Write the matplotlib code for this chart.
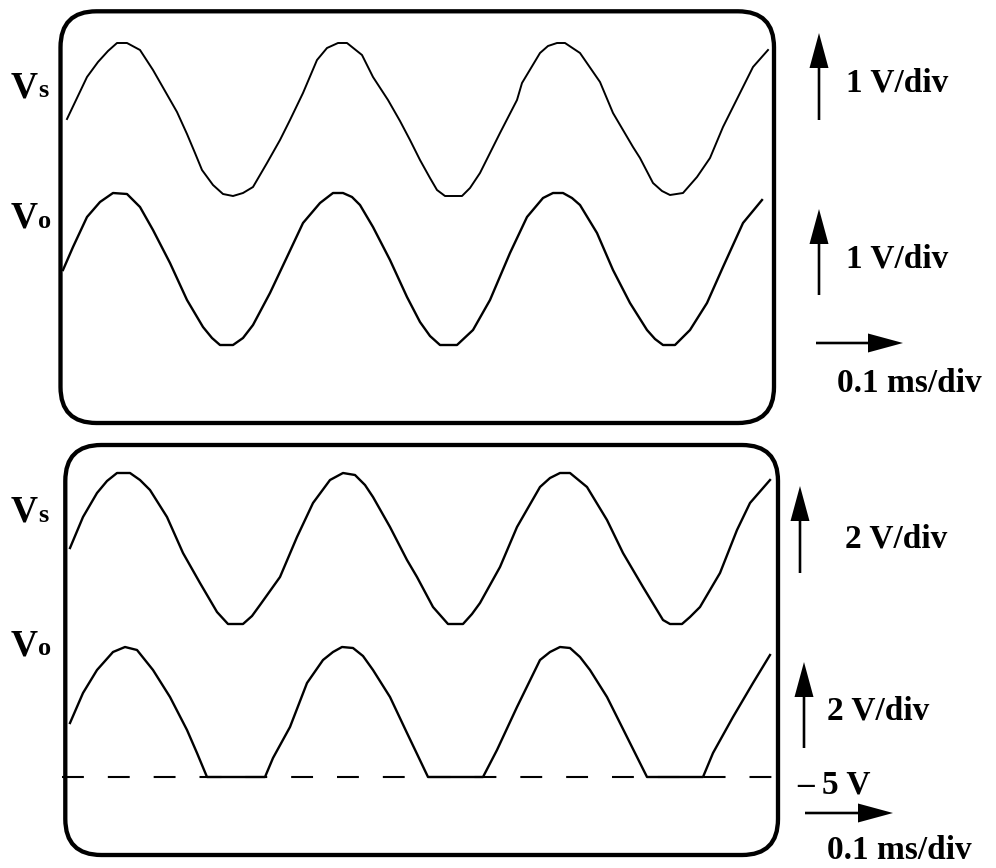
import matplotlib
matplotlib.use("Agg")
import matplotlib.pyplot as plt
from matplotlib.patches import FancyBboxPatch

# traces (screen pixels, y grows downward)
vs1_x = [67, 77, 87, 98, 108, 117, 127, 140, 153, 165, 177, 187, 195, 202, 213, 223, 233, 243, 253, 267,
         280, 290, 303, 317, 327, 338, 347, 362, 373, 388, 400, 410, 420, 430, 437, 445, 462, 470, 480,
         500, 517, 522, 540, 548, 557, 565, 580, 600, 613, 633, 640, 653, 662, 670, 683, 697, 710, 723,
         743, 753, 768]
vs1_y = [119, 98, 77, 62, 51, 43, 43, 50, 70, 91, 112, 134, 153, 170, 185, 194, 196, 193, 187, 163,
         140, 120, 93, 60, 48, 43, 43, 55, 77, 100, 121, 140, 160, 178, 190, 196, 196, 188, 173,
         133, 100, 83, 53, 46, 43, 43, 53, 82, 113, 147, 158, 183, 191, 195, 193, 177, 158, 127,
         87, 67, 50]

vo1_x = [63, 73, 87, 100, 113, 127, 140, 153, 170, 187, 203, 212, 220, 233, 243, 253, 270, 287, 303, 320,
         333, 343, 352, 360, 373, 390, 407, 420, 430, 440, 457, 473, 490, 510, 527, 543, 553, 563, 572,
         580, 597, 613, 630, 647, 655, 663, 675, 690, 707, 723, 743, 762]
vo1_y = [270, 247, 217, 202, 193, 194, 207, 230, 263, 300, 327, 338, 345, 345, 338, 325, 293, 257, 223, 203,
         193, 193, 197, 205, 227, 260, 297, 322, 336, 345, 345, 330, 300, 253, 217, 198, 193, 193, 198,
         205, 233, 270, 303, 330, 339, 345, 345, 330, 303, 267, 223, 200]

vs2_x = [70, 83, 97, 107, 117, 130, 140, 150, 167, 183, 200, 217, 228, 243, 252, 260, 280, 297, 313, 330,
         343, 355, 365, 373, 390, 407, 417, 433, 448, 463, 472, 480, 500, 517, 540, 550, 560, 570, 587,
         607, 623, 643, 663, 670, 682, 690, 700, 720, 737, 750, 770]
vs2_y = [548, 517, 493, 481, 473, 473, 480, 490, 517, 553, 583, 612, 624, 624, 616, 605, 577, 537, 503, 480,
         473, 475, 485, 497, 527, 560, 577, 607, 624, 624, 614, 603, 567, 527, 487, 478, 473, 473, 487,
         520, 553, 587, 620, 624, 624, 617, 607, 573, 530, 503, 480]

vo2_x = [70, 83, 97, 113, 125, 137, 153, 170, 187, 197, 207, 265, 273, 290, 307, 323, 333, 342, 353, 363,
         373, 390, 407, 418, 428, 483, 497, 517, 540, 550, 560, 570, 580, 590, 607, 627, 647, 703, 713,
         733, 753, 770]
vo2_y = [723, 693, 670, 652, 647, 650, 670, 697, 730, 753, 777, 777, 758, 727, 683, 660, 652, 647, 648, 656,
         670, 697, 733, 756, 777, 777, 750, 707, 660, 652, 647, 648, 657, 670, 697, 737, 777, 777, 753,
         717, 683, 655]

clip_x = [62, 772]
clip_y = [777, 777]

FONT = "Liberation Serif"

fig = plt.figure(figsize=(9.96, 8.68), dpi=100)
ax = fig.add_axes([0, 0, 1, 1])
ax.set_xlim(0, 996)
ax.set_ylim(868, 0)
ax.axis("off")

# screen frames
for x0, y0, x1, y1 in [(60.5, 11.3, 774, 423), (65.3, 445, 778, 855)]:
    box = FancyBboxPatch((x0, y0), x1 - x0, y1 - y0, boxstyle="round,pad=0,rounding_size=36",
                         fill=False, ec="black", lw=3.1)
    ax.add_patch(box)

ax.plot(vs1_x, vs1_y, color="black", lw=1.4)
ax.plot(vo1_x, vo1_y, color="black", lw=1.7)
ax.plot(vs2_x, vs2_y, color="black", lw=1.7)
ax.plot(vo2_x, vo2_y, color="black", lw=1.7)
ax.plot(clip_x, clip_y, color="black", lw=1.5, linestyle=(0, (10.5, 11.5)))

# scale arrows
def arrow(x, y, dx, dy):
    ax.arrow(x, y, dx, dy, width=2.6, head_width=19, head_length=35,
             length_includes_head=True, fc="black", ec="black", lw=0)

arrow(819, 120, 0, -87)
arrow(819, 295, 0, -86)
arrow(816, 343, 87, 0)
arrow(800, 573, 0, -87)
arrow(804, 748, 0, -86)
arrow(805, 813, 88, 0)

def label(x, y, s, size=24):
    ax.text(x, y, s, fontsize=size, fontfamily=FONT, fontweight="bold",
            ha="left", va="baseline")

label(846, 92, "1 V/div")
label(846, 267, "1 V/div")
label(837, 392, "0.1 ms/div")
label(845, 547, "2 V/div")
label(827, 720, "2 V/div")
label(797, 793, "– 5 V")
label(827, 859, "0.1 ms/div")

# channel names
for base, sub in [(97, "s"), (228, "o"), (522, "s"), (655, "o")]:
    label(11, base, "V", size=27)
    label(38, base, sub, size=19)

fig.savefig("out.png", dpi=100)
